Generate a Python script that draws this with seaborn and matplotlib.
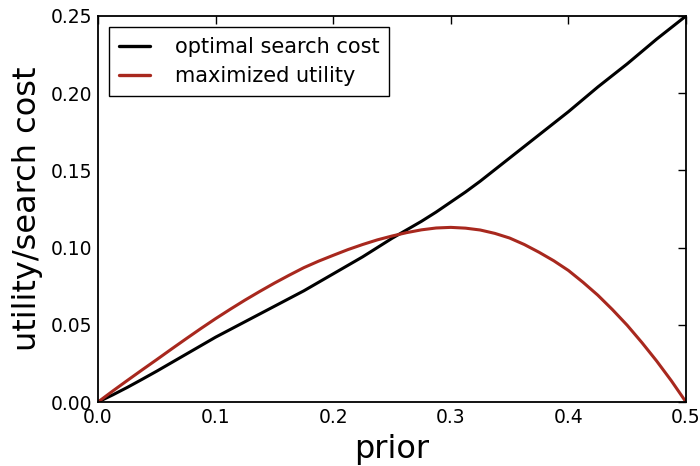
import numpy as np
import pandas as pd
import matplotlib
matplotlib.use("Agg")
import matplotlib.pyplot as plt
import seaborn as sns

prior = [0.0, 0.0125, 0.025, 0.0375, 0.05, 0.0625, 0.075, 0.0875, 0.1, 0.1125,
         0.125, 0.1375, 0.15, 0.1625, 0.175, 0.1875, 0.2, 0.2125, 0.225, 0.2375,
         0.25, 0.2625, 0.275, 0.2875, 0.3, 0.3125, 0.325, 0.3375, 0.35, 0.3625,
         0.375, 0.3875, 0.4, 0.4125, 0.425, 0.4375, 0.45, 0.4625, 0.475, 0.4875, 0.5]
optimal_search_cost = [0.0, 0.0046, 0.0095, 0.0147, 0.020, 0.0255, 0.031, 0.0365,
                       0.042, 0.047, 0.052, 0.057, 0.062, 0.067, 0.072, 0.0775,
                       0.083, 0.0885, 0.094, 0.100, 0.106, 0.1115, 0.117, 0.123,
                       0.1295, 0.136, 0.143, 0.1505, 0.158, 0.1655, 0.173, 0.1805,
                       0.188, 0.196, 0.204, 0.2115, 0.219, 0.227, 0.235, 0.2425, 0.25]
maximized_utility = [0.0, 0.0071, 0.0140, 0.0208, 0.0275, 0.0343, 0.041, 0.0476,
                     0.054, 0.0601, 0.066, 0.0716, 0.077, 0.0821, 0.087, 0.0912,
                     0.095, 0.0987, 0.102, 0.1050, 0.1075, 0.1097, 0.1115, 0.1127,
                     0.1131, 0.1126, 0.1114, 0.1092, 0.1062, 0.1020, 0.0970, 0.0915,
                     0.0852, 0.0775, 0.0692, 0.0598, 0.0497, 0.0385, 0.0266, 0.0138, 0.0]
series_names = ["optimal search cost", "maximized utility"]
x_ticks = [0.0, 0.1, 0.2, 0.3, 0.4, 0.5]
y_ticks = [0.0, 0.05, 0.10, 0.15, 0.20, 0.25]

df = pd.concat([
    pd.DataFrame({"prior": prior, "value": optimal_search_cost, "series": series_names[0]}),
    pd.DataFrame({"prior": prior, "value": maximized_utility, "series": series_names[1]}),
])

sns.set_theme(style="white")
plt.rcParams["font.family"] = ["DejaVu Sans"]
plt.rcParams["text.color"] = "black"
plt.rcParams["axes.labelcolor"] = "black"

fig = plt.figure(figsize=(7.0, 4.66), dpi=100)
ax = fig.add_axes([0.14, 0.1373, 0.84, 0.8284])

sns.lineplot(data=df, x="prior", y="value", hue="series",
             palette={series_names[0]: "black", series_names[1]: "#a8281e"},
             linewidth=2.2, ax=ax, estimator=None, sort=False)

ax.set_xlim(0, 0.5)
ax.set_ylim(0, 0.25)
ax.set_xticks(x_ticks)
ax.set_yticks(y_ticks)
ax.set_xticklabels([f"{v:.1f}" for v in x_ticks])
ax.set_yticklabels([f"{v:.2f}" for v in y_ticks])
ax.tick_params(direction="in", length=6, width=1, top=True, right=True,
               labelsize=13.5, colors="black", pad=4)
for s in ax.spines.values():
    s.set_visible(True)
    s.set_color("black")
    s.set_linewidth(1.3)

ax.set_xlabel("prior", fontsize=23, labelpad=5, color="black")
ax.set_ylabel("utility/search cost", fontsize=23, labelpad=6, color="black")

leg = ax.legend(loc="upper left", fontsize=15, frameon=True, fancybox=False,
                edgecolor="black", framealpha=1, borderaxespad=0.55,
                handlelength=1.5, handletextpad=1.2, borderpad=0.45,
                labelspacing=0.45, title=None)
leg.get_frame().set_linewidth(1.0)
for t in leg.get_texts():
    t.set_color("black")
for line in leg.get_lines():
    line.set_linewidth(2.4)

fig.savefig("out.png", dpi=100)
